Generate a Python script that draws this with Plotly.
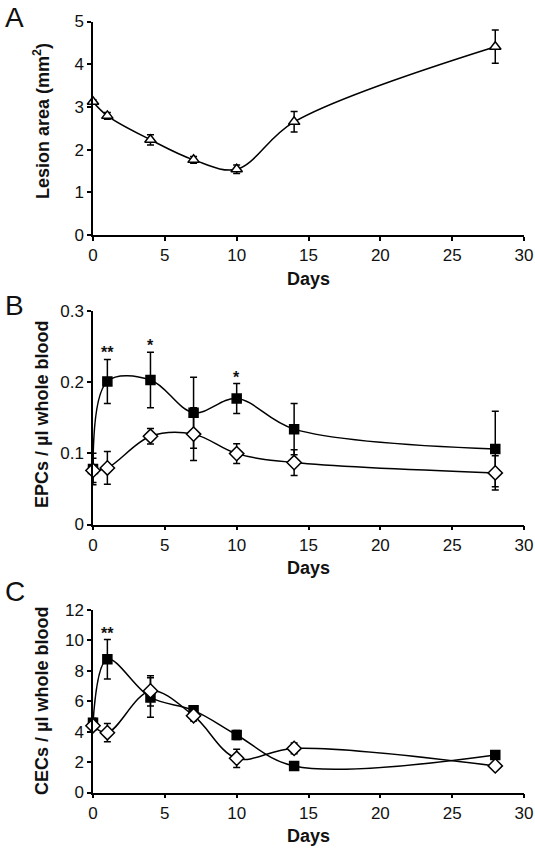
import plotly.graph_objects as go

W, H = 535, 850

days = [0, 1, 4, 7, 10, 14, 28]

lesion = [3.12, 2.79, 2.23, 1.76, 1.54, 2.65, 4.41]
lesion_err = [0.05, 0.08, 0.12, 0.08, 0.10, 0.24, 0.39]

epc_filled = [0.078, 0.201, 0.203, 0.157, 0.177, 0.134, 0.106]
epc_filled_err = [0.022, 0.031, 0.039, 0.050, 0.021, 0.036, 0.053]
epc_open = [0.076, 0.0795, 0.124, 0.127, 0.0996, 0.087, 0.0725]
epc_open_err = [0.017, 0.023, 0.011, 0.037, 0.014, 0.018, 0.024]
epc_sig = ["", "**", "*", "", "*", "", ""]

cec_filled = [4.59, 8.76, 6.25, 5.40, 3.78, 1.74, 2.47]
cec_filled_err = [0.30, 1.30, 1.30, 0.30, 0.30, 0.15, 0.20]
cec_open = [4.39, 3.93, 6.68, 5.05, 2.25, 2.90, 1.75]
cec_open_err = [0.30, 0.60, 1.00, 0.35, 0.60, 0.35, 0.15]
cec_sig = ["", "**", "", "", "", "", ""]

panel_letters = ["A", "B", "C"]
y_titles = ["Lesion area (mm<sup>2</sup>)", "EPCs / µl whole blood", "CECs / µl whole blood"]
x_title = "Days"

FONT = "Liberation Sans, Arial, sans-serif"

# pixel layout (top, bottom) of each plot area
L, R = 93, 524
panels_px = [(21.5, 235), (311, 524.5), (610, 792.5)]


def py(v):
    return 1 - v / H


def px(v):
    return (v - L) / (R - L)


fig = go.Figure()


def add_series(xa, ya, y, err, symbol, fill, size):
    fig.add_trace(go.Scatter(
        x=days, y=y, xaxis=xa, yaxis=ya, mode="lines+markers",
        line=dict(color="black", width=1.5, shape="spline", smoothing=1.0),
        marker=dict(symbol=symbol, size=size, color=fill,
                    line=dict(color="black", width=1.5)),
        error_y=dict(type="data", array=err, visible=True, color="black",
                     thickness=1.5, width=3.5),
        cliponaxis=False, showlegend=False, hoverinfo="skip"))


add_series("x", "y", lesion, lesion_err, "triangle-up", "white", 10)
add_series("x2", "y2", epc_filled, epc_filled_err, "square", "black", 9)
add_series("x2", "y2", epc_open, epc_open_err, "diamond", "white", 11)
add_series("x3", "y3", cec_filled, cec_filled_err, "square", "black", 9)
add_series("x3", "y3", cec_open, cec_open_err, "diamond", "white", 11)

axis_common = dict(showline=True, linecolor="black", linewidth=1.5,
                   ticks="outside", ticklen=4, tickwidth=1.5, tickcolor="black",
                   showgrid=False, zeroline=False, automargin=False,
                   tickfont=dict(family=FONT, size=17, color="#111"))

yranges = [(0, 5, 1), (0, 0.3, 0.1), (0, 12, 2)]
layout = dict(width=W, height=H, plot_bgcolor="white", paper_bgcolor="white",
              margin=dict(l=L, r=W - R, t=0, b=0, autoexpand=False),
              showlegend=False)
for i, ((top, bot), (y0, y1, dy)) in enumerate(zip(panels_px, yranges)):
    sx = "" if i == 0 else str(i + 1)
    layout["xaxis" + sx] = dict(axis_common, range=[0, 30], dtick=5, tick0=0,
                                anchor="y" + sx, domain=[0, 1],
                                title=dict(text="<b>" + x_title + "</b>", standoff=8,
                                           font=dict(family=FONT, size=18, color="#111")))
    layout["yaxis" + sx] = dict(axis_common, range=[y0, y1], dtick=dy, tick0=0,
                                anchor="x" + sx, domain=[py(bot), py(top)])
fig.update_layout(**layout)

annotations = []
title_centers = [121, 415, 701]
letter_centers = [17, 305, 591]
for i in range(3):
    annotations.append(dict(text=panel_letters[i], xref="paper", yref="paper",
                            x=px(3), xanchor="left",
                            y=py(letter_centers[i]), yanchor="middle",
                            showarrow=False,
                            font=dict(family=FONT, size=28, color="#111")))
    annotations.append(dict(text="<b>" + y_titles[i] + "</b>", xref="paper", yref="paper",
                            x=px(42), xanchor="center",
                            y=py(title_centers[i]), yanchor="middle",
                            textangle=-90, showarrow=False,
                            font=dict(family=FONT, size=18, color="#111")))

for xa, ya, vals, errs, sig in [("x2", "y2", epc_filled, epc_filled_err, epc_sig),
                                ("x3", "y3", cec_filled, cec_filled_err, cec_sig)]:
    for d, v, e, s in zip(days, vals, errs, sig):
        if s:
            annotations.append(dict(text="<b>" + s + "</b>", xref=xa, yref=ya,
                                    x=d, y=v + e, xanchor="center", yanchor="bottom",
                                    yshift=-4, showarrow=False,
                                    font=dict(family=FONT, size=16, color="#111")))
fig.update_layout(annotations=annotations)

# remove the default page margin so the 535x850 figure fills the window exactly
fig.write_html("out.html", config={"displayModeBar": False},
               post_script="document.body.style.margin='0';"
                           "document.body.style.overflow='hidden';")
